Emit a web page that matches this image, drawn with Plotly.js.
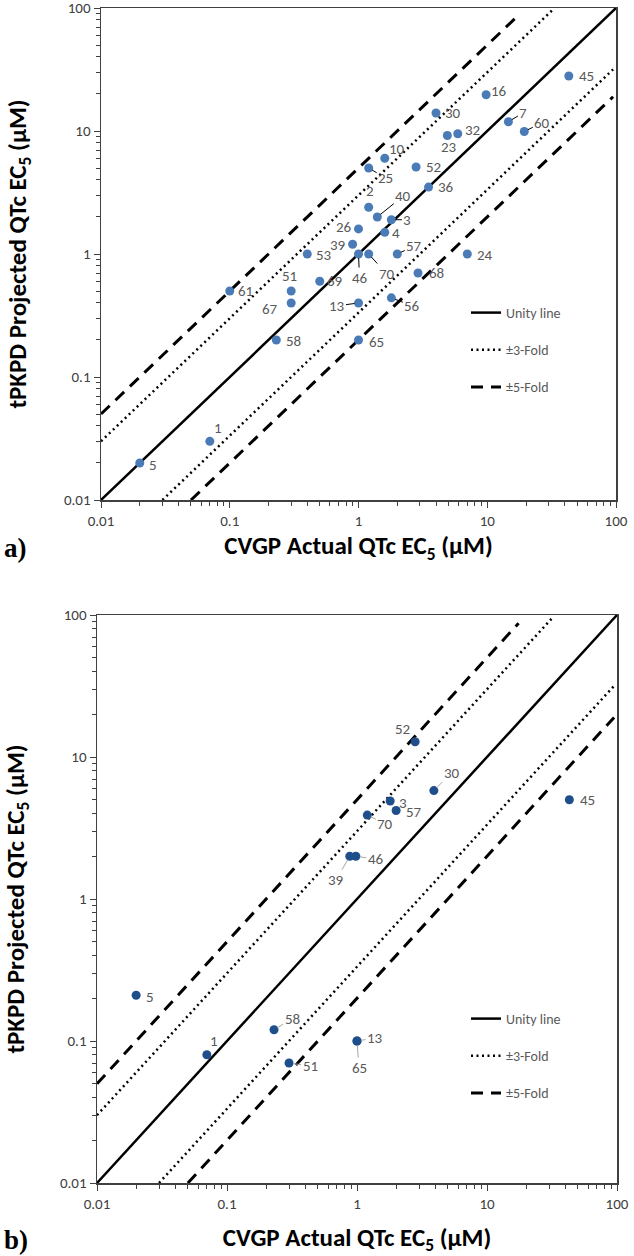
<!DOCTYPE html>
<html>
<head>
<meta charset="utf-8">
<script src="https://cdn.plot.ly/plotly-3.0.1.min.js"></script>
<style>html,body{margin:0;padding:0;background:#fff;}#chart{width:634px;height:1256px;}</style>
</head>
<body>
<div id="chart"></div>
<script>
// ---------- DATA ----------
// Panel a)
const topIds       = ['5','1','61','58','67','51','53','69','39','26','46','70','13','65','56','57','68','24','4','3','40','2','25','10','52','36','23','32','30','16','7','60','45'];
const topActual    = [0.02,0.07,0.1,0.23,0.3,0.3,0.4,0.5,0.9,1.0,1.0,1.2,1.0,1.0,1.8,2.0,2.9,7.0,1.6,1.8,1.4,1.2,1.2,1.6,2.8,3.5,4.9,5.9,4.0,9.8,14.6,19.4,43];
const topProjected = [0.02,0.03,0.5,0.2,0.4,0.5,1.0,0.6,1.2,1.6,1.0,1.0,0.4,0.2,0.44,1.0,0.7,1.0,1.5,1.9,2.0,2.4,5.0,6.0,5.1,3.5,9.2,9.5,14,19.7,11.9,9.9,28];
// Panel b)
const botIds       = ['5','1','58','51','13','65','39','46','70','3','57','30','52','45'];
const botActual    = [0.02,0.07,0.23,0.3,1.0,1.0,0.88,0.98,1.2,1.8,2.0,3.9,2.8,43];
const botProjected = [0.21,0.08,0.12,0.07,0.1,0.1,2.0,2.0,3.9,4.9,4.2,5.8,12.8,5.0];
// Reference lines (x, y pairs; null separates upper / lower segment)
const unityX = [0.01, 100];
const unityY = [0.01, 100];
const fold3X = [0.01, 32, null, 0.03, 95];
const fold3Y = [0.03, 96, null, 0.01, 31.7];
const fold5X = [0.01, 17.5, null, 0.05, 95];
const fold5Y = [0.05, 87.5, null, 0.01, 19];
const lineNames = ['Unity line', '\u00b13-Fold', '\u00b15-Fold'];
const tickVals = [0.01, 0.1, 1, 10, 100];
const tickText = ['0.01', '0.1', '1', '10', '100'];
const xTitle = 'CVGP Actual QTc EC<sub>5</sub> (\u00b5M)';
const yTitle = 'tPKPD Projected QTc EC<sub>5</sub> (\u00b5M)';

// ---------- STYLE (label placement in px relative to point; leader flag) ----------
const topLabelPos = {
  '5':[13,2,0],'1':[8,-13,0],'61':[16,0,0],'58':[17,1,0],'67':[-21,6,0],'51':[-2,-15,0],'53':[17,1,0],
  '69':[15,0,0],'39':[-15,1,0],'26':[-15,-2,0],'46':[1,24,1],'70':[18,20,1],'13':[-22,3,1],'65':[18,2,0],
  '56':[21,8,1],'57':[17,-8,1],'68':[18,0,0],'24':[18,1,0],'4':[11,1,0],'3':[16,0,1],'40':[26,-21,1],
  '2':[1,-16,0],'25':[17,10,1],'10':[12,-9,1],'52':[17,0,0],'36':[17,0,0],'23':[2,12,0],'32':[15,-4,0],
  '30':[17,0,0],'16':[13,-4,0],'7':[15,-9,1],'60':[18,-9,1],'45':[18,0,0]
};
const botLabelPos = {
  '5':[14,2,0],'1':[7,-14,0],'58':[18,-11,1],'51':[21,3,1],'13':[18,-3,1],'65':[2,27,1],'39':[-14,24,1],
  '46':[20,3,1],'70':[18,9,1],'3':[13,2,0],'57':[18,1,0],'30':[18,-18,1],'52':[-13,-13,0],'45':[18,0,0]
};

const FONT = 'Carlito, Lato, "Liberation Sans", sans-serif';
const minorVals = [];
[0.01,0.1,1,10].forEach(d => { for (let k = 2; k <= 9; k++) minorVals.push(+(d*k).toPrecision(3)); });

function lineTraces(xa, ya, legendId, showLegend) {
  const mk = (x, y, name, dash, width) => ({
    x: x, y: y, xaxis: xa, yaxis: ya, mode: 'lines', name: name, legend: legendId,
    legendgroup: name, showlegend: showLegend, connectgaps: false, hoverinfo: 'skip',
    line: {color: '#000', width: width, dash: dash}
  });
  return [
    mk(unityX, unityY, lineNames[0], 'solid', 2.5),
    mk(fold3X, fold3Y, lineNames[1], '2px,3.5px', 2.5),
    mk(fold5X, fold5Y, lineNames[2], '12px,8px', 3)
  ];
}

function pointTrace(xs, ys, ids, xa, ya, color) {
  return {x: xs, y: ys, text: ids, xaxis: xa, yaxis: ya, mode: 'markers', showlegend: false,
    marker: {color: color, size: 9}, hoverinfo: 'skip'};
}

function labelAnns(xs, ys, ids, pos, xref, yref, leaderColor) {
  return ids.map((id, i) => {
    const p = pos[id] || [14, 0, 0];
    const base = {x: Math.log10(xs[i]), y: Math.log10(ys[i]), xref: xref, yref: yref, text: id,
      font: {family: FONT, size: 15, color: '#595959'}};
    if (p[2]) {
      return Object.assign(base, {showarrow: true, ax: p[0], ay: p[1], arrowhead: 0, arrowwidth: 1,
        arrowcolor: leaderColor, standoff: 4, startstandoff: 0});
    }
    return Object.assign(base, {showarrow: false, xshift: p[0], yshift: -p[1]});
  });
}

function axis(domain, anchor, titleText, isY, standoff) {
  return {
    type: 'log', domain: domain, anchor: anchor, range: [-2, 2],
    tickmode: 'array', tickvals: tickVals, ticktext: tickText,
    ticks: 'outside', ticklen: 6, tickwidth: 1, tickcolor: '#404040',
    minor: {tickmode: 'array', tickvals: minorVals, ticks: 'outside', ticklen: 4, tickwidth: 1, tickcolor: '#404040', showgrid: false},
    showgrid: false, zeroline: false, showline: true, linecolor: '#404040', linewidth: 1.5, mirror: true,
    tickfont: {family: FONT, size: 15, color: '#404040'}, ticklabeloverflow: 'allow',
    title: {text: titleText, standoff: standoff, font: {family: FONT, size: 25, color: '#000', weight: 'bold'}},
    automargin: false, fixedrange: true
  };
}

const H = 1256, W = 634;
const data = [].concat(
  lineTraces('x', 'y', 'legend', true),
  [pointTrace(topActual, topProjected, topIds, 'x', 'y', '#4a7bb7')],
  lineTraces('x2', 'y2', 'legend2', true),
  [pointTrace(botActual, botProjected, botIds, 'x2', 'y2', '#1f4f8b')]
);

const legendStyle = (y) => ({
  x: 466 / W, y: y, xanchor: 'left', yanchor: 'top', bgcolor: 'rgba(0,0,0,0)', borderwidth: 0,
  font: {family: FONT, size: 14, color: '#595959'}, tracegroupgap: 16, itemclick: false
});

const layout = {
  width: W, height: H, margin: {l: 0, r: 0, t: 0, b: 0},
  paper_bgcolor: '#fff', plot_bgcolor: '#fff', showlegend: true,
  xaxis:  axis([101 / W, 616 / W], 'y',  xTitle, false, 8),
  yaxis:  axis([1 - 500 / H, 1 - 8 / H], 'x', yTitle, true, 30),
  xaxis2: axis([97 / W, 617 / W], 'y2', xTitle, false, 18),
  yaxis2: axis([1 - 1183 / H, 1 - 615 / H], 'x2', yTitle, true, 30),
  legend:  legendStyle(1 - 297 / H),
  legend2: legendStyle(1 - 1003 / H),
  annotations: [].concat(
    labelAnns(topActual, topProjected, topIds, topLabelPos, 'x', 'y', '#000'),
    labelAnns(botActual, botProjected, botIds, botLabelPos, 'x2', 'y2', '#a6a6a6'),
    [
      {text: '<b>a)</b>', xref: 'paper', yref: 'paper', x: 2 / W, y: 1 - 548 / H, xanchor: 'left', yanchor: 'middle', showarrow: false,
       font: {family: '"Liberation Serif", "Times New Roman", serif', size: 27, color: '#000'}},
      {text: '<b>b)</b>', xref: 'paper', yref: 'paper', x: 2 / W, y: 1 - 1240 / H, xanchor: 'left', yanchor: 'middle', showarrow: false,
       font: {family: '"Liberation Serif", "Times New Roman", serif', size: 27, color: '#000'}}
    ]
  )
};

Plotly.newPlot('chart', data, layout, {staticPlot: true, displayModeBar: false});
</script>
</body>
</html>
